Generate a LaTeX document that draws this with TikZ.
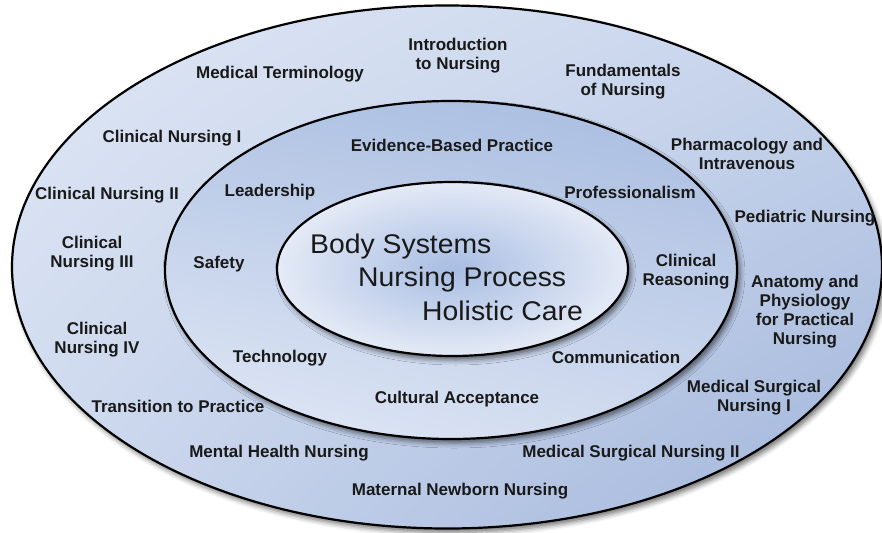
\documentclass[tikz,border=0pt]{standalone}
\usepackage{fontspec}
\setmainfont{Liberation Sans}
\newfontfamily\corefont[FakeStretch=1.05]{Liberation Sans}
\usetikzlibrary{shapes.geometric,shadows.blur,shadings}
\definecolor{oUL}{RGB}{224,231,245}
\definecolor{oUR}{RGB}{200,213,236}
\definecolor{oLL}{RGB}{205,217,238}
\definecolor{oLR}{RGB}{160,180,218}
\definecolor{mUL}{RGB}{180,198,229}
\definecolor{mUR}{RGB}{168,188,224}
\definecolor{mLL}{RGB}{226,233,246}
\definecolor{mLR}{RGB}{206,217,238}
\definecolor{iIn}{RGB}{168,189,227}
\definecolor{iOut}{RGB}{228,234,246}
\begin{document}
\begin{tikzpicture}[x=1pt,y=-1pt,
  lbl/.style={font=\fontsize{17}{19}\selectfont\bfseries, align=center, inner sep=0pt, text=black!90, yshift=-1.5pt},
  core/.style={font=\corefont\fontsize{27}{33}\selectfont, anchor=base west, inner sep=0pt, text=black!90},
  ring/.style={ellipse, draw=black, line width=2.2pt, inner sep=0pt, outer sep=0pt,
    blur shadow={shadow xshift=3pt, shadow yshift=-4pt, shadow blur radius=5pt, shadow opacity=55}}]
\useasboundingbox (0,0) rectangle (882,532);
\clip (0,0) rectangle (882,532);
% rings
\node[ring, minimum width=870pt, minimum height=523pt,
  upper left=oUL, upper right=oUR, lower left=oLL, lower right=oLR] (outer) at (447,267) {};
\node[ring, minimum width=572pt, minimum height=338pt,
  upper left=mUL, upper right=mUR, lower left=mLL, lower right=mLR] (middle) at (451,270) {};
\node[ring, minimum width=351pt, minimum height=174pt,
  inner color=iIn, outer color=iOut] (inner) at (452.5,269) {};
% core
\node[core] (bs) at (310,253) {Body Systems};
\node[core] (np) at (358,286) {Nursing Process};
\node[core] (hc) at (422,320) {Holistic Care};
% middle ring labels
\node[lbl] (ebp) at (452,144) {Evidence-Based Practice};
\node[lbl] (lead) at (270,191) {Leadership};
\node[lbl] (prof) at (630,191) {Professionalism};
\node[lbl] (safe) at (219,263) {Safety};
\node[lbl] (creas) at (686,270) {Clinical\\Reasoning};
\node[lbl] (tech) at (280,357) {Technology};
\node[lbl] (comm) at (616,356) {Communication};
\node[lbl] (cult) at (457,398) {Cultural Acceptance};
% outer ring labels
\node[lbl] (intro) at (458,54) {Introduction\\to Nursing};
\node[lbl] (medterm) at (280,73) {Medical Terminology};
\node[lbl] (fund) at (623,80) {Fundamentals\\of Nursing};
\node[lbl] (cn1) at (172,137) {Clinical Nursing I};
\node[lbl] (pharm) at (747,152) {Pharmacology and\\Intravenous};
\node[lbl] (cn2) at (107,194) {Clinical Nursing II};
\node[lbl] (ped) at (805,217) {Pediatric Nursing};
\node[lbl] (cn3) at (92,252) {Clinical\\Nursing III};
\node[lbl] (anat) at (805,310) {Anatomy and\\Physiology\\for Practical\\Nursing};
\node[lbl] (cn4) at (97,338) {Clinical\\Nursing IV};
\node[lbl] (trans) at (178,405) {Transition to Practice};
\node[lbl] (ms1) at (754,396) {Medical Surgical\\Nursing I};
\node[lbl] (mhn) at (279,452) {Mental Health Nursing};
\node[lbl] (ms2) at (631,452) {Medical Surgical Nursing II};
\node[lbl] (mnn) at (460,490) {Maternal Newborn Nursing};
\end{tikzpicture}
\end{document}
